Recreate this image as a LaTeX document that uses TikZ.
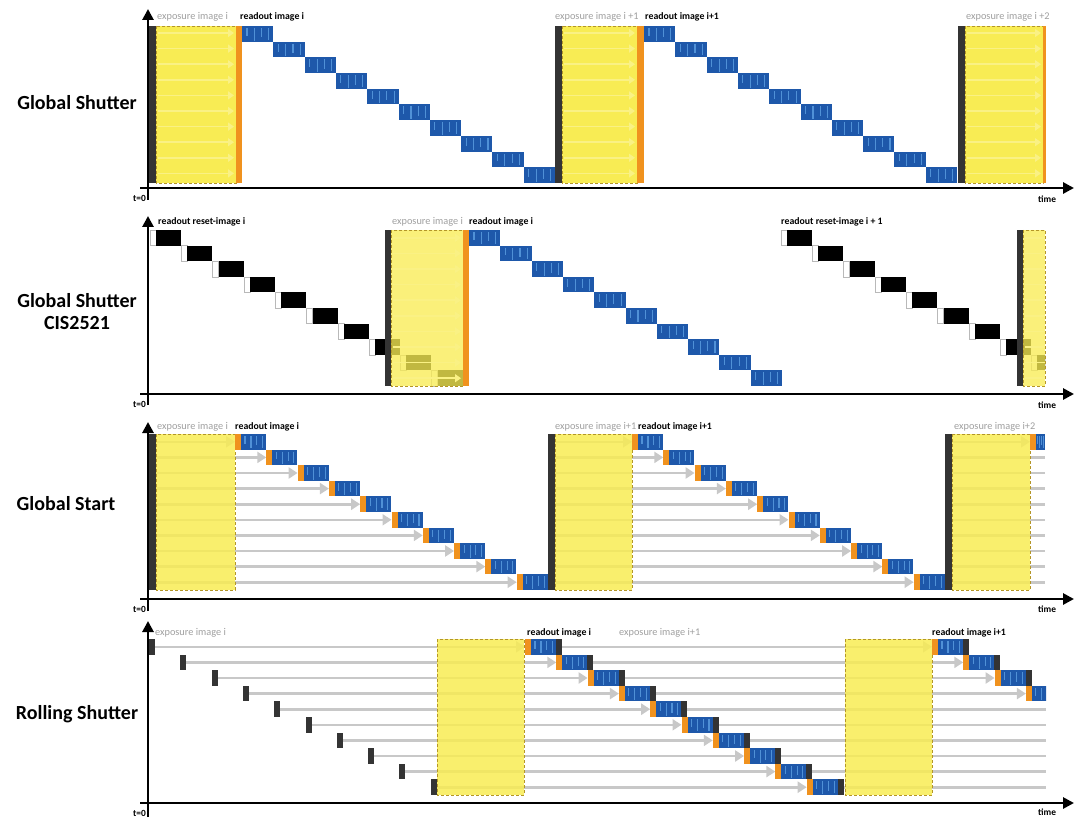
\documentclass[tikz,border=0pt]{standalone}
\usepackage{fontspec}
\setmainfont{Carlito}
\usetikzlibrary{arrows.meta}
\definecolor{yelfill}{RGB}{248,236,84}
\definecolor{yeledge}{RGB}{180,150,40}
\definecolor{darkbar}{RGB}{52,52,52}
\definecolor{orng}{RGB}{240,146,30}
\definecolor{blueblk}{RGB}{30,88,170}
\definecolor{streak}{RGB}{80,145,215}
\definecolor{lgray}{RGB}{200,200,200}
% textured readout block: x, y, width, height
\newcommand{\rdblk}[4]{%
  \fill[blueblk] (#1,#2) rectangle ++(#3,#4);
  \foreach \f/\h in {0.16/0.5,0.4/0.8,0.63/0.6,0.86/0.75}
    \draw[streak,line width=1.1pt] ({#1+\f*(#3)},{#2+2}) -- ++(0,{\h*(#4)});}
\begin{document}
\begin{tikzpicture}[x=1pt,y=-1pt,
  axis/.style={line width=2.8pt,-{Triangle[length=11pt,width=11pt]}},
  expo/.style={fill=yelfill,draw=yeledge,densely dashed,line width=0.6pt},
  faint/.style={draw=yelfill!72!white,line width=1.5pt,-{Triangle[length=6pt,width=8pt]}},
  gline/.style={draw=lgray,line width=2.6pt},
  garr/.style={gline,-{Triangle[length=9pt,width=11pt]}},
  glbl/.style={anchor=west,inner sep=0pt,text=gray!75,font=\fontsize{10.3}{12}\selectfont},
  blbl/.style={anchor=west,inner sep=0pt,font=\bfseries\fontsize{9.8}{12}\selectfont},
  ax/.style={inner sep=0pt,font=\bfseries\fontsize{9.4}{11}\selectfont},
  title/.style={align=center,font=\bfseries\fontsize{20}{22}\selectfont}]
\useasboundingbox (0,0) rectangle (1080,824);

% Global Shutter
\node[title] (gsTitle) at (77,103) {Global Shutter};
\foreach \a/\b/\c/\d in {148/156/236/242,555/562/637/644,958/965/1043/1046}{
  \fill[darkbar] (\a,26) rectangle (\b,183);
  \draw[expo] (\b,26) rectangle (\c,183);
  \foreach \k in {0,...,9} \draw[faint] (\b+2,33+15.6*\k) -- (\c-2,33+15.6*\k);
  \fill[orng] (\c,26) rectangle (\d,183);}
\foreach \s in {242,644}
  \foreach \k in {0,...,9} \rdblk{\s+31.3*\k}{26+15.7*\k}{31.3}{15.7};
\node[glbl] (gsExpA) at (157,17) {exposure image i};
\node[blbl] (gsReadA) at (240,17) {readout image i};
\node[glbl] (gsExpB) at (555,17) {exposure image i +1};
\node[blbl] (gsReadB) at (645,17) {readout image i+1};
\node[glbl] (gsExpC) at (966,17) {exposure image i +2};
\draw[axis] (148,200) -- (148,9);
\draw[axis] (140,188) -- (1074,188);
\node[ax,anchor=east] (gsZero) at (146,198) {t=0};
\node[ax,anchor=west] (gsTime) at (1038,199) {time};

% Global Shutter CIS2521
\node[title] (cisTitle) at (77,312) {Global Shutter\\CIS2521};
\foreach \k in {0,...,9}{
  \filldraw[fill=white,draw=gray!55,line width=0.6pt] (150+31.3*\k,230+15.6*\k) rectangle ++(6,15.6);
  \fill (156+31.3*\k,230+15.6*\k) rectangle ++(25,15.6);}
\begin{scope}
  \clip (700,200) rectangle (1045,400);
  \foreach \k in {0,...,8}{
    \filldraw[fill=white,draw=gray!55,line width=0.6pt] (781+31.3*\k,230+15.6*\k) rectangle ++(6,15.6);
    \fill (787+31.3*\k,230+15.6*\k) rectangle ++(25,15.6);}
\end{scope}
\fill[darkbar] (385,230) rectangle (391,386);
\draw[expo,fill opacity=0.78] (391,230) rectangle (463,386);
\foreach \k in {0,...,9} \draw[faint] (393,237.8+15.6*\k) -- (461,237.8+15.6*\k);
\fill[orng] (463,230) rectangle (469,386);
\foreach \k in {0,...,9} \rdblk{469+31.3*\k}{230+15.6*\k}{31.3}{15.6};
\fill[darkbar] (1017,230) rectangle (1023,386);
\draw[expo,fill opacity=0.78] (1023,230) rectangle (1045,386);
\foreach \k in {0,...,9} \draw[faint,-] (1025,237.8+15.6*\k) -- (1045,237.8+15.6*\k);
\node[blbl] (cisResetA) at (158,222) {readout reset-image i};
\node[glbl] (cisExpA) at (392,222) {exposure image i};
\node[blbl] (cisReadA) at (469,222) {readout image i};
\node[blbl] (cisResetB) at (781,222) {readout reset-image i + 1};
\draw[axis] (148,405) -- (148,216);
\draw[axis] (140,394) -- (1074,394);
\node[ax,anchor=east] (cisZero) at (146,404) {t=0};
\node[ax,anchor=west] (cisTime) at (1038,405) {time};

% Global Start
\node[title] (gstTitle) at (66,504) {Global Start};
\foreach \a/\b/\c in {148/156/235,548/555/632}{
  \foreach \k in {0,...,9} \draw[garr] (\b,441.8+15.6*\k) -- (\c+31.3*\k,441.8+15.6*\k);
  \fill[darkbar] (\a,434) rectangle (\b,590);
  \draw[expo,fill opacity=0.85] (\b,434) rectangle (\c,590);
  \foreach \k in {0,...,9}{
    \fill[orng] (\c+31.3*\k,434+15.6*\k) rectangle ++(6,15.6);
    \rdblk{\c+6+31.3*\k}{434+15.6*\k}{25}{15.6}}}
\draw[garr] (952,441.8) -- (1030,441.8);
\foreach \k in {1,...,9} \draw[gline] (952,441.8+15.6*\k) -- (1045,441.8+15.6*\k);
\fill[darkbar] (945,434) rectangle (952,590);
\draw[expo,fill opacity=0.85] (952,434) rectangle (1030,590);
\fill[orng] (1030,434) rectangle (1036,449.6);
\rdblk{1036}{434}{9}{15.6}
\node[glbl] (gstExpA) at (157,427) {exposure image i};
\node[blbl] (gstReadA) at (235,427) {readout image i};
\node[glbl] (gstExpB) at (555,427) {exposure image i+1};
\node[blbl] (gstReadB) at (638,427) {readout image i+1};
\node[glbl] (gstExpC) at (954,427) {exposure image i+2};
\draw[axis] (148,611) -- (148,422);
\draw[axis] (140,599) -- (1074,599);
\node[ax,anchor=east] (gstZero) at (146,609) {t=0};
\node[ax,anchor=west] (gstTime) at (1038,609) {time};

% Rolling Shutter
\node[title] (rsTitle) at (77,714) {Rolling Shutter};
\foreach \k in {0,...,9}{
  \draw[garr] (155+31.3*\k,646.8+15.6*\k) -- (525+31.3*\k,646.8+15.6*\k);
  \ifnum\k<4
    \draw[garr] (562+31.3*\k,646.8+15.6*\k) -- (932+31.3*\k,646.8+15.6*\k);
  \else
    \draw[gline] (562+31.3*\k,646.8+15.6*\k) -- (1046,646.8+15.6*\k);
  \fi
  \fill[darkbar] (149+31.3*\k,639+15.6*\k) rectangle ++(6,15.6);}
\draw[expo,fill opacity=0.85] (437,639) rectangle (524,795);
\draw[expo,fill opacity=0.85] (845,639) rectangle (932,795);
\foreach \k in {0,...,9}{
  \fill[orng] (525+31.3*\k,639+15.6*\k) rectangle ++(6,15.6);
  \rdblk{531+31.3*\k}{639+15.6*\k}{25}{15.6}
  \fill[darkbar] (556+31.3*\k,639+15.6*\k) rectangle ++(6,15.6);}
\begin{scope}
  \clip (900,620) rectangle (1046,800);
  \foreach \k in {0,...,3}{
    \fill[orng] (932+31.3*\k,639+15.6*\k) rectangle ++(6,15.6);
    \rdblk{938+31.3*\k}{639+15.6*\k}{25}{15.6}
    \fill[darkbar] (963+31.3*\k,639+15.6*\k) rectangle ++(6,15.6);}
\end{scope}
\node[glbl] (rsExpA) at (155,633) {exposure image i};
\node[blbl] (rsReadA) at (527,633) {readout image i};
\node[glbl] (rsExpB) at (619,633) {exposure image i+1};
\node[blbl] (rsReadB) at (932,633) {readout image i+1};
\draw[axis] (148,817) -- (148,621);
\draw[axis] (140,803) -- (1074,803);
\node[ax,anchor=east] (rsZero) at (146,813) {t=0};
\node[ax,anchor=west] (rsTime) at (1038,812) {time};
\end{tikzpicture}
\end{document}
